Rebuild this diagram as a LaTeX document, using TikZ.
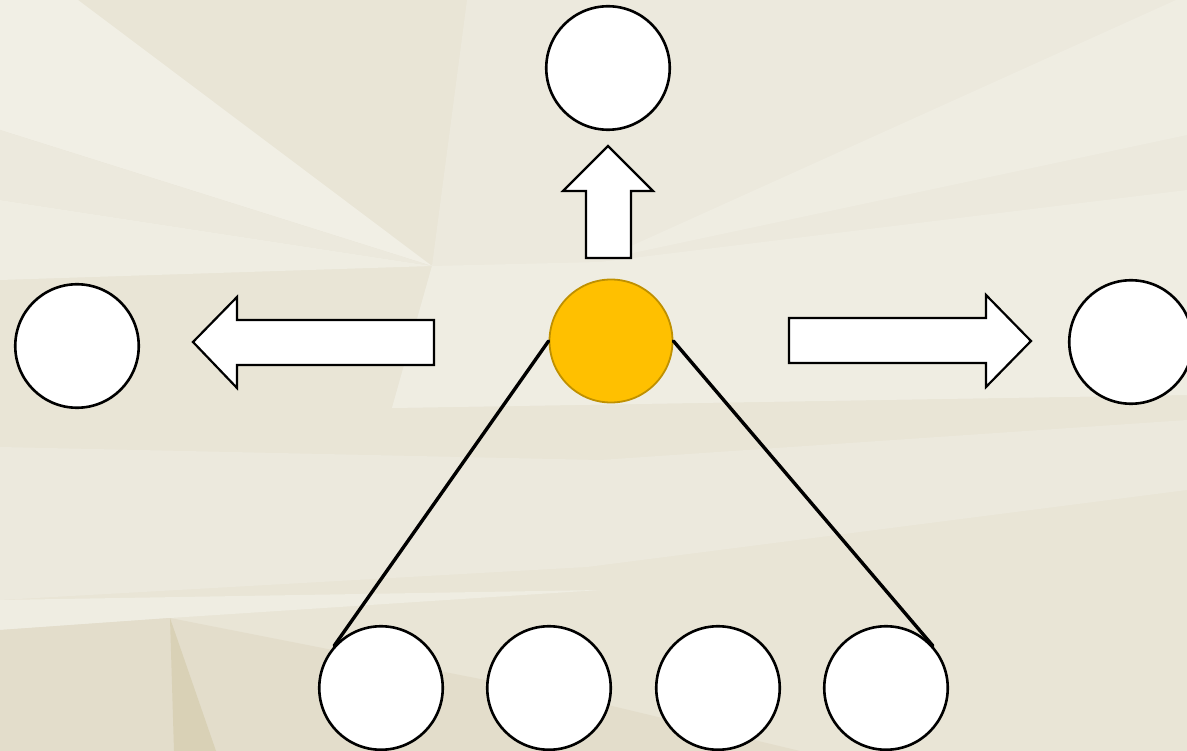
\documentclass[tikz,border=0pt]{standalone}
\usepackage{tikz}
\usetikzlibrary{calc}

\definecolor{bgbase}{HTML}{E9E5D6}
\definecolor{bglight}{HTML}{F1EFE5}
\definecolor{bgmid}{HTML}{ECE9DD}
\definecolor{bgpale}{HTML}{EFEDE2}
\definecolor{bgdark}{HTML}{E3DDCB}
\definecolor{bgdeep}{HTML}{D9D1B6}
\definecolor{hubfill}{HTML}{FFC000}
\definecolor{hubedge}{HTML}{BF9000}

\begin{document}
\begin{tikzpicture}[line cap=round,line join=round,x=1pt,y=-1pt,
  ball/.style={circle,draw=black,fill=white,line width=2.6pt,minimum size=123.5pt,inner sep=0pt},
  hub/.style={circle,draw=hubedge,fill=hubfill,line width=1.8pt,minimum size=123pt,inner sep=0pt},
  blockarrow/.style={draw=black,fill=white,line width=2.2pt,line join=miter},
  spoke/.style={draw=black,line width=3.4pt}]
\useasboundingbox (0,0) rectangle (1187,751);
\clip (0,0) rectangle (1187,751);

\coordinate (VP) at (432,266);

% background facets
\fill[bgbase] (0,0) rectangle (1187,751);
\fill[bglight] (0,0) -- (78,0) -- (VP) -- (0,130) -- cycle;
\fill[bgmid] (0,130) -- (VP) -- (0,200) -- cycle;
\fill[bgpale] (0,200) -- (VP) -- (0,280) -- cycle;
\fill[bgmid] (467,0) -- (1187,0) -- (1187,395) -- (392,408) -- (VP) -- cycle;
\fill[bgpale] (600,260) -- (1176,0) -- (1187,0) -- (1187,135) -- cycle;
\fill[bgpale] (VP) -- (600,262) -- (1187,190) -- (1187,395) -- (392,408) -- cycle;
\fill[bgmid] (0,447) -- (600,460) -- (1187,420) -- (1187,490) -- (587,567) -- (0,600) -- cycle;
\fill[bgpale] (0,600) -- (600,590) -- (170,618) -- (0,630) -- cycle;
\fill[bgdark] (0,630) -- (170,618) -- (587,700) -- (800,751) -- (0,751) -- cycle;
\fill[bgdeep] (170,618) -- (216,751) -- (174,751) -- cycle;

% nodes
\node[ball] (top) at (608,68) {};
\node[ball] (left) at (77,346) {};
\node[ball] (right) at (1131,342) {};
\node[hub] (hub) at (611,341) {};
\node[ball] (b1) at (381,688) {};
\node[ball] (b2) at (549,688) {};
\node[ball] (b3) at (718,688) {};
\node[ball] (b4) at (886,688) {};

% block arrows
\draw[blockarrow] (608,146) -- (653,191) -- (631,191) -- (631,258) -- (586,258) -- (586,191) -- (563,191) -- cycle;
\draw[blockarrow] (193,342) -- (237,297) -- (237,320) -- (434,320) -- (434,365) -- (237,365) -- (237,388) -- cycle;
\draw[blockarrow] (1031,341) -- (986,295) -- (986,318) -- (789,318) -- (789,363) -- (986,363) -- (986,387) -- cycle;

% spokes
\draw[spoke] (hub.west) -- (b1.138);
\draw[spoke] (hub.east) -- (b4.42);
\end{tikzpicture}
\end{document}
